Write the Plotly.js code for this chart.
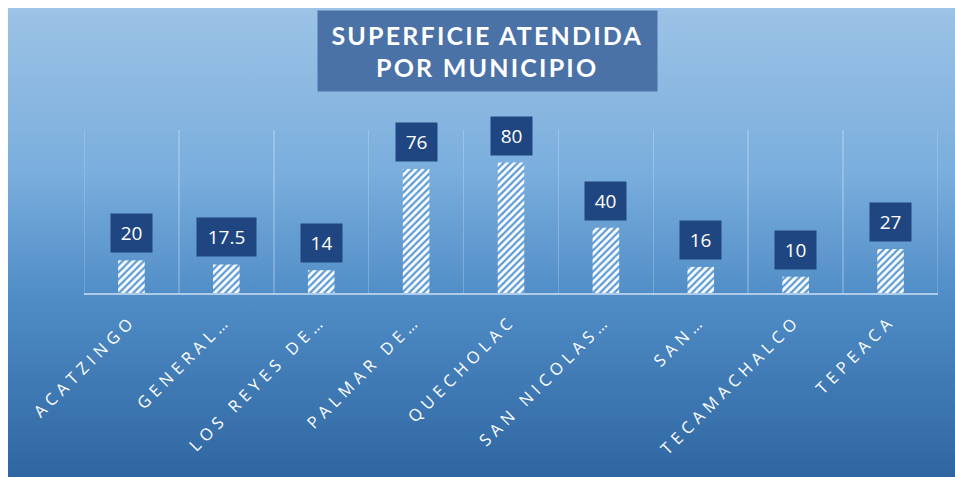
<!DOCTYPE html>
<html>
<head>
<meta charset="utf-8">
<script src="https://cdn.plot.ly/plotly-3.0.1.min.js"></script>
<style>
  html, body { margin: 0; padding: 0; background: #ffffff; }
  #wrap { position: absolute; left: 0; top: 0; width: 955px; height: 477px; }
  #bg { position: absolute; left: 8px; top: 8px; width: 947px; height: 469px;
        background: linear-gradient(to bottom, #9dc3e6 0%, #7aaedd 35%, #4f8cc6 62%, #2f66a1 100%); }
  #chart { position: absolute; left: 0; top: 0; width: 955px; height: 477px; }
  .xtick text { letter-spacing: 5px; }
  .annotation.title-ann text { letter-spacing: 2.2px; }
</style>
</head>
<body>
<div id="wrap">
  <div id="bg"></div>
  <div id="chart"></div>
</div>
<script>
const categories = ["ACATZINGO", "GENERAL…", "LOS REYES DE…", "PALMAR DE…", "QUECHOLAC", "SAN NICOLAS…", "SAN…", "TECAMACHALCO", "TEPEACA"];
const values = [20, 17.5, 14, 76, 80, 40, 16, 10, 27];
const valueLabels = ["20", "17.5", "14", "76", "80", "40", "16", "10", "27"];
const titleText = "SUPERFICIE ATENDIDA<br>POR MUNICIPIO";

const trace = {
  type: "bar",
  x: categories,
  y: values,
  width: 0.28,
  marker: {
    color: "#5b9bd5",
    line: { width: 0 },
    pattern: { shape: "/", bgcolor: "#ffffff", fgcolor: "#5b9bd5", size: 5, solidity: 0.45 }
  },
  hoverinfo: "skip"
};

const labelAnns = categories.map((c, i) => ({
  x: c, y: values[i], xref: "x", yref: "y",
  text: valueLabels[i],
  showarrow: false,
  yanchor: "bottom", xanchor: "center",
  yshift: 7,
  bgcolor: "#1f4680",
  borderpad: 3,
  width: valueLabels[i].length > 2 ? 53 : 35,
  height: 32,
  font: { family: "'Open Sans', Lato, sans-serif", size: 19, color: "#ffffff" }
}));

const titleAnn = {
  xref: "paper", yref: "paper",
  x: (487 - 84) / 854, y: 1, yanchor: "bottom", xanchor: "center",
  yshift: 38,
  text: titleText,
  showarrow: false,
  bgcolor: "#4a72a7",
  borderpad: 0,
  width: 339, height: 80,
  align: "center",
  font: { family: "Lato, 'Open Sans', sans-serif", size: 25, color: "#ffffff", weight: "bold" }
};

const edgeLines = [-0.5, 8.5].map(v => ({
  type: "line", xref: "x", yref: "paper", x0: v, x1: v, y0: 0, y1: 1,
  line: { color: "rgba(255,255,255,0.22)", width: 1.5 }, layer: "below"
}));

const layout = {
  width: 955, height: 477,
  paper_bgcolor: "rgba(0,0,0,0)",
  plot_bgcolor: "rgba(0,0,0,0)",
  margin: { l: 84, r: 17, t: 130, b: 184 },
  showlegend: false,
  bargap: 0.72,
  xaxis: {
    type: "category",
    range: [-0.5, 8.5],
    tickson: "boundaries",
    showgrid: true,
    gridcolor: "rgba(255,255,255,0.22)",
    gridwidth: 1.5,
    showline: true,
    linecolor: "rgba(190,215,240,0.85)",
    linewidth: 1.5,
    ticks: "",
    ticklabelstandoff: 10,
    tickangle: -45,
    tickfont: { family: "'Open Sans', sans-serif", size: 16.5, color: "#ffffff" },
    automargin: false,
    fixedrange: true
  },
  yaxis: {
    range: [0, 100],
    showgrid: false,
    zeroline: false,
    showticklabels: false,
    showline: false,
    fixedrange: true
  },
  shapes: edgeLines,
  annotations: [titleAnn].concat(labelAnns)
};

Plotly.newPlot("chart", [trace], layout, { displayModeBar: false, staticPlot: true }).then(() => {
  const first = document.querySelector(".annotation");
  if (first) first.classList.add("title-ann");
});
</script>
</body>
</html>
